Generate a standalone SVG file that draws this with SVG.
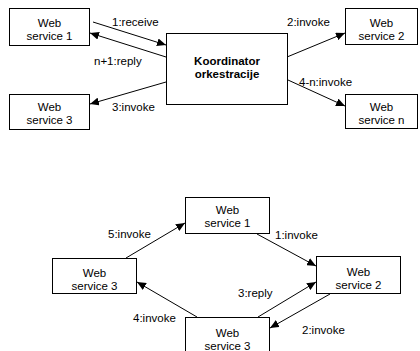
<svg xmlns="http://www.w3.org/2000/svg" width="420" height="351" viewBox="0 0 420 351">
  <defs>
    <marker id="arrow" markerUnits="userSpaceOnUse" markerWidth="10" markerHeight="8" refX="9" refY="4" orient="auto">
      <path d="M0,0 L9,4 L0,8 Z" fill="#000"/>
    </marker>
    <style>
      .box { fill: #fff; stroke: #000; stroke-width: 1; }
      .txt { font-family: "Liberation Sans", Arial, sans-serif; font-size: 11.5px; fill: #000; }
      .mid { text-anchor: middle; }
      .bold { font-weight: bold; }
      .edge { stroke: #000; stroke-width: 1; fill: none; marker-end: url(#arrow); }
    </style>
  </defs>
  <rect width="420" height="351" fill="#fff"/>

  <!-- Orchestration: coordinator with services -->
  <g id="orch-ws1">
    <rect class="box" x="9.5" y="8.5" width="80" height="37"/>
    <text class="txt mid" x="49.5" y="27">Web</text>
    <text class="txt mid" x="49.5" y="40">service 1</text>
  </g>
  <g id="orch-ws3">
    <rect class="box" x="9.5" y="94.5" width="80" height="35"/>
    <text class="txt mid" x="49.5" y="111">Web</text>
    <text class="txt mid" x="49.5" y="124">service 3</text>
  </g>
  <g id="orch-coordinator">
    <rect class="box" x="166.5" y="33.5" width="121" height="71"/>
    <text class="txt mid bold" x="227" y="65">Koordinator</text>
    <text class="txt mid bold" x="227" y="78">orkestracije</text>
  </g>
  <g id="orch-ws2">
    <rect class="box" x="345.5" y="8.5" width="72" height="36"/>
    <text class="txt mid" x="381.5" y="27">Web</text>
    <text class="txt mid" x="381.5" y="40">service 2</text>
  </g>
  <g id="orch-wsn">
    <rect class="box" x="345.5" y="94.5" width="72" height="34"/>
    <text class="txt mid" x="381.5" y="111">Web</text>
    <text class="txt mid" x="381.5" y="124">service n</text>
  </g>

  <!-- Choreography: services calling each other -->
  <g id="chor-ws1">
    <rect class="box" x="185.5" y="197.5" width="84" height="36"/>
    <text class="txt mid" x="227.5" y="214">Web</text>
    <text class="txt mid" x="227.5" y="227">service 1</text>
  </g>
  <g id="chor-ws3-left">
    <rect class="box" x="52.5" y="258.5" width="84" height="35"/>
    <text class="txt mid" x="94.5" y="277">Web</text>
    <text class="txt mid" x="94.5" y="290">service 3</text>
  </g>
  <g id="chor-ws2">
    <rect class="box" x="316.5" y="256.5" width="84" height="37"/>
    <text class="txt mid" x="358.5" y="276">Web</text>
    <text class="txt mid" x="358.5" y="289">service 2</text>
  </g>
  <g id="chor-ws3-bottom">
    <rect class="box" x="185.5" y="317.5" width="84" height="40"/>
    <text class="txt mid" x="227.5" y="337">Web</text>
    <text class="txt mid" x="227.5" y="350">service 3</text>
  </g>

  <g id="connectors">
    <line class="edge" x1="93" y1="22" x2="166" y2="45"/>
    <line class="edge" x1="166" y1="57" x2="90" y2="33"/>
    <line class="edge" x1="166" y1="82" x2="90" y2="104"/>
    <line class="edge" x1="287" y1="57" x2="345" y2="33"/>
    <line class="edge" x1="288" y1="80" x2="345" y2="106"/>

    <line class="edge" x1="126" y1="258" x2="185" y2="223"/>
    <line class="edge" x1="197" y1="317" x2="137" y2="282"/>
    <line class="edge" x1="257" y1="234" x2="316" y2="266"/>
    <line class="edge" x1="258" y1="317" x2="316" y2="282"/>
    <line class="edge" x1="330" y1="294" x2="270" y2="328"/>

    <text class="txt" x="112" y="26">1:receive</text>
    <text class="txt" x="94" y="65">n+1:reply</text>
    <text class="txt" x="112" y="111">3:invoke</text>
    <text class="txt" x="287" y="26">2:invoke</text>
    <text class="txt" x="299" y="86">4-n:invoke</text>

    <text class="txt" x="108" y="238">5:invoke</text>
    <text class="txt" x="133" y="322">4:invoke</text>
    <text class="txt" x="275" y="239">1:invoke</text>
    <text class="txt" x="238" y="297">3:reply</text>
    <text class="txt" x="302" y="334">2:invoke</text>
  </g>
</svg>
